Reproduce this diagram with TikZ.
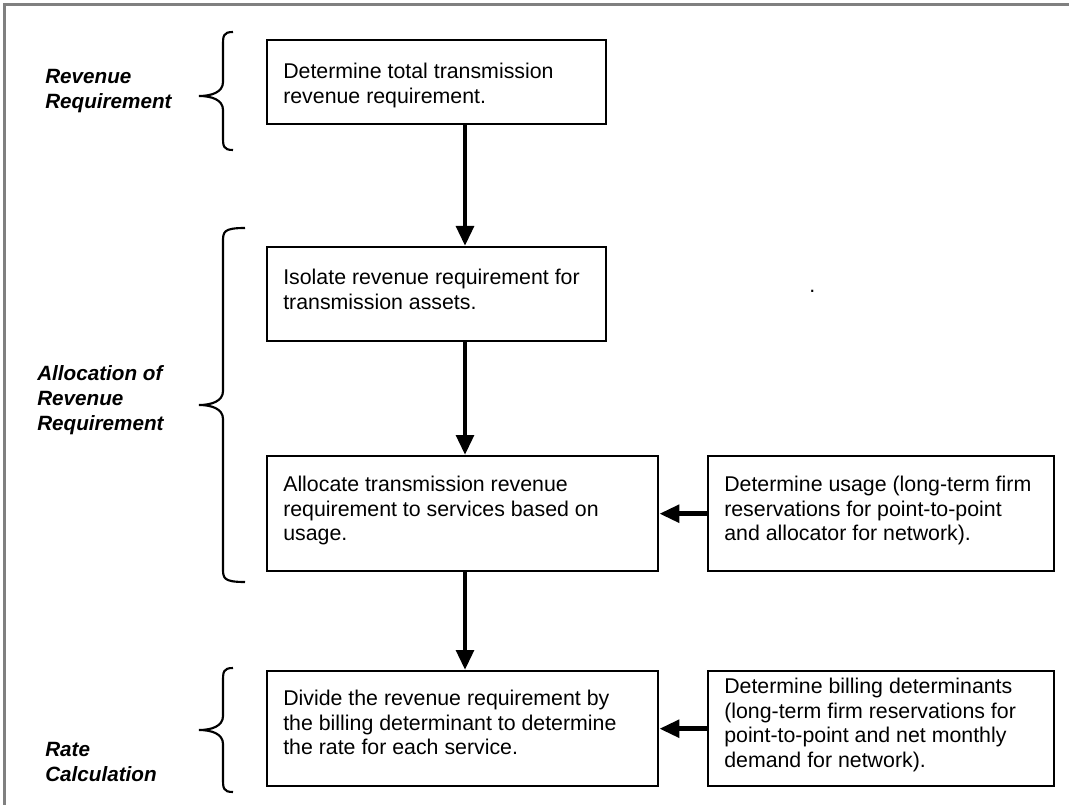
\documentclass[tikz,border=0pt]{standalone}
\usepackage{fontspec}
\setmainfont{Liberation Sans}
\usetikzlibrary{arrows.meta,calc}
\begin{document}
\begin{tikzpicture}[x=0.75pt,y=-0.75pt,
  box/.style={draw,line width=1.8pt,minimum width=#1,anchor=north west,inner sep=0pt},
  txt/.style={anchor=north west,align=left,inner sep=0pt,font=\fontsize{16pt}{18.4pt}\selectfont},
  lbl/.style={anchor=north west,align=left,inner sep=0pt,font=\fontsize{15.5pt}{18.8pt}\selectfont\bfseries\itshape},
  arr/.style={line width=3.5pt,-{Triangle[length=15pt,width=13pt]}},
  brc/.style={line width=1.6pt},
  frame/.style={draw=gray,line width=2.3pt}]
\useasboundingbox (0,0) rectangle (1069,805);
\draw[frame] (4.5,805) -- (4.5,4.5) -- (1069,4.5);
% boxes
\node[box=339pt*0.75, minimum height=84*0.75pt] (b1) at (266,39) {};
\node[box=339pt*0.75, minimum height=94*0.75pt] (b2) at (266,246) {};
\node[box=391pt*0.75, minimum height=115*0.75pt] (b3) at (266,455) {};
\node[box=346pt*0.75, minimum height=115*0.75pt] (b4) at (707,455) {};
\node[box=391pt*0.75, minimum height=115*0.75pt] (b5) at (266,670) {};
\node[box=346pt*0.75, minimum height=115*0.75pt] (b6) at (707,670) {};
% texts
\node[txt] (t1) at (283,63) {Determine total transmission\\revenue requirement.};
\node[txt] (t2) at (283,269) {Isolate revenue requirement for\\transmission assets.};
\node[txt] (t3) at (283,476) {Allocate transmission revenue\\requirement to services based on\\usage.};
\node[txt] (t4) at (724,476) {Determine usage (long-term firm\\reservations for point-to-point\\and allocator for network).};
\node[txt] (t5) at (283,690) {Divide the revenue requirement by\\the billing determinant to determine\\the rate for each service.};
\node[txt] (t6) at (724,678) {Determine billing determinants\\(long-term firm reservations for\\point-to-point and net monthly\\demand for network).};
\node[txt] (dot) at (809,290) {.};
% labels
\node[lbl] (l1) at (45,69) {Revenue\\Requirement};
\node[lbl] (l2) at (37,365) {Allocation of\\Revenue\\Requirement};
\node[lbl] (l3) at (45,742) {Rate\\Calculation};
% arrows
\coordinate (a1s) at ($(b1.south west)+(199,0)$);
\coordinate (a2s) at ($(b2.south west)+(199,0)$);
\coordinate (a3s) at ($(b3.south west)+(199,0)$);
\draw[arr] (a1s) -- (a1s |- b2.north);
\draw[arr] (a2s) -- (a2s |- b3.north);
\draw[arr] (a3s) -- (a3s |- b5.north);
\draw[arr] (b4.west) -- (b3.east);
\draw[arr] (b6.west) -- (b5.east);
% braces
\newcommand{\mybrace}[4]{% top, tip, bottom, end x
  \draw[brc] (#4,#1) .. controls (223,#1) and (223,#1+4) .. (223,#1+14)
    -- (223,#2-14) .. controls (223,#2-4) and (212,#2) .. (199,#2)
    .. controls (212,#2) and (223,#2+4) .. (223,#2+14)
    -- (223,#3-14) .. controls (223,#3-4) and (223,#3) .. (#4,#3);}
\mybrace{32}{96}{150}{233}
\mybrace{228}{405}{582}{245}
\mybrace{668}{730}{792}{233}
\end{tikzpicture}
\end{document}
